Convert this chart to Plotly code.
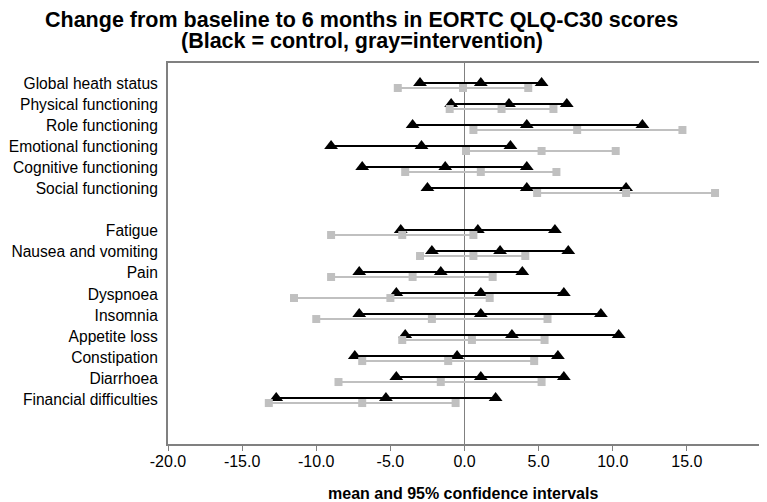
import plotly.graph_objects as go

# Categories (row order top to bottom; blank slot between groups)
categories = [
    "Global heath status", "Physical functioning", "Role functioning",
    "Emotional functioning", "Cognitive functioning", "Social functioning",
    "",
    "Fatigue", "Nausea and vomiting", "Pain", "Dyspnoea", "Insomnia",
    "Appetite loss", "Constipation", "Diarrhoea", "Financial difficulties",
]

# Control (black): lower CI, mean, upper CI
control_lo   = [-3.0, -0.9, -3.5, -9.0, -6.9, -2.5, None, -4.3, -2.2, -7.1, -4.6, -7.1, -4.0, -7.4, -4.6, -12.7]
control_mean = [ 1.1,  3.0,  4.2, -2.9, -1.3,  4.2, None,  0.9,  2.4, -1.6,  1.1,  1.1,  3.2, -0.5,  1.1,  -5.3]
control_hi   = [ 5.2,  6.9, 12.0,  3.1,  4.2, 10.9, None,  6.1,  7.0,  3.9,  6.7,  9.2, 10.4,  6.3,  6.7,   2.1]

# Intervention (gray): lower CI, mean, upper CI
interv_lo   = [-4.5, -1.0,  0.6,  0.1, -4.0,  4.9, None, -9.0, -3.0, -9.0, -11.5, -10.0, -4.2, -6.9, -8.5, -13.2]
interv_mean = [-0.1,  2.5,  7.6,  5.2,  1.1, 10.9, None, -4.2,  0.6, -3.5,  -5.0,  -2.2,  0.5, -1.1, -1.6,  -6.9]
interv_hi   = [ 4.3,  6.0, 14.7, 10.2,  6.2, 16.9, None,  0.6,  4.1,  1.9,   1.7,   5.6,  5.4,  4.7,  5.2,  -0.6]

x_ticks = [-20, -15, -10, -5, 0, 5, 10, 15]
x_tick_labels = ["-20.0", "-15.0", "-10.0", "-5.0", "0.0", "5.0", "10.0", "15.0"]

title_lines = ["Change from baseline to 6 months in EORTC QLQ-C30 scores",
               "(Black = control, gray=intervention)"]
x_title = "mean and 95% confidence intervals"

CTRL_OFF = -0.05
INT_OFF = 0.19
FONT = "Liberation Sans, Arial, sans-serif"


def build(lo, mean, hi, off):
    xs, ys = [], []
    for i, (a, b, c) in enumerate(zip(lo, mean, hi)):
        if a is None:
            continue
        xs += [a, b, c, None]
        ys += [i + off] * 3 + [None]
    return xs, ys


fig = go.Figure()

cx, cy = build(control_lo, control_mean, control_hi, CTRL_OFF)
ix, iy = build(interv_lo, interv_mean, interv_hi, INT_OFF)

fig.add_trace(go.Scatter(
    x=cx, y=cy, mode="lines+markers", name="control",
    line=dict(color="black", width=2),
    marker=dict(symbol="triangle-up", size=12, color="black"),
    connectgaps=False, showlegend=False, hoverinfo="x",
))
fig.add_trace(go.Scatter(
    x=ix, y=iy, mode="lines+markers", name="intervention",
    line=dict(color="#c0c0c0", width=2),
    marker=dict(symbol="square", size=8, color="#c0c0c0"),
    connectgaps=False, showlegend=False, hoverinfo="x",
))

tick_idx = [i for i, c in enumerate(categories) if c]
tick_txt = [categories[i] for i in tick_idx]

# The page body has an 8px margin, so the figure is drawn 8px smaller
# and everything is placed 8px up/left of the reference positions.
fig.update_layout(
    width=759, height=494,
    margin=dict(l=160, r=6, t=55, b=58, autoexpand=False),
    paper_bgcolor="white", plot_bgcolor="white",
    font=dict(family=FONT, size=15.6, color="black"),
    xaxis=dict(
        range=[-20, 20], tickvals=x_ticks, ticktext=x_tick_labels,
        ticks="outside", ticklen=5, tickcolor="#808080",
        showgrid=False, zeroline=True, zerolinecolor="#808080", zerolinewidth=1,
        showline=True, linecolor="#808080", linewidth=2, mirror=True,
        tickfont=dict(size=16), ticklabelstandoff=-3, automargin=False,
    ),
    yaxis=dict(
        range=[17.14, -1], tickvals=tick_idx, ticktext=tick_txt,
        ticks="", showgrid=False, zeroline=False,
        showline=True, linecolor="#808080", linewidth=2, mirror=True,
        tickfont=dict(size=15.6), ticklabelstandoff=5, automargin=False,
    ),
    annotations=[
        dict(text="<b>" + title_lines[0] + "</b>", xref="paper", yref="paper",
             x=0.327, y=(436 - 12) / 381, xanchor="center", yanchor="middle",
             showarrow=False, font=dict(size=21.5, family=FONT, color="black")),
        dict(text="<b>" + title_lines[1] + "</b>", xref="paper", yref="paper",
             x=0.327, y=(436 - 33) / 381, xanchor="center", yanchor="middle",
             showarrow=False, font=dict(size=21.5, family=FONT, color="black")),
        dict(text="<b>" + x_title + "</b>", xref="paper", yref="paper",
             x=0.4983, y=(436 - 485) / 381, xanchor="center", yanchor="middle",
             showarrow=False, font=dict(size=16, family=FONT, color="black")),
    ],
)

fig.write_html("out.html")
